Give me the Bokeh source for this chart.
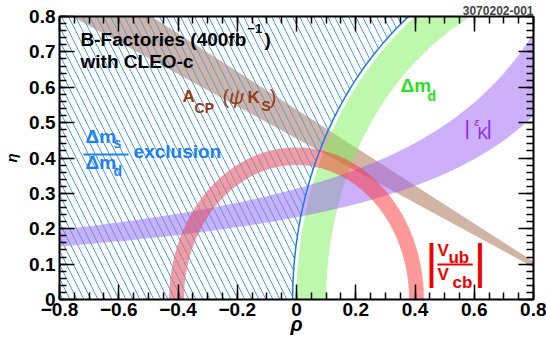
import numpy as np
from bokeh.plotting import figure
from bokeh.models import Range1d, LinearAxis, FixedTicker, Label, CustomJSTickFormatter
from bokeh.embed import file_html
from bokeh.resources import INLINE

# ---- axes -------------------------------------------------------------
rho_range = (-0.8, 0.8)
eta_range = (0.0, 0.8)
rho_ticks = [-0.8, -0.6, -0.4, -0.2, 0.0, 0.2, 0.4, 0.6, 0.8]
rho_tick_labels = ["\u22120.8", "\u22120.6", "\u22120.4", "\u22120.2", "0", "0.2", "0.4", "0.6", "0.8"]
eta_ticks = [0.0, 0.1, 0.2, 0.3, 0.4, 0.5, 0.6, 0.7, 0.8]
eta_tick_labels = ["0", "0.1", "0.2", "0.3", "0.4", "0.5", "0.6", "0.7", "0.8"]
rho_minor_step = 0.05
eta_minor_step = 0.02

# ---- constraints in the (rho, eta) plane ------------------------------
vub_vcb_radii = [0.38, 0.43]      # |Vub/Vcb|: annulus about (0, 0)
dmd_radii = [0.90, 1.00]          # Delta m_d: annulus about (1, 0)
dms_dmd_radius = 1.013            # Delta m_s / Delta m_d exclusion edge, about (1, 0)
acp_tan_beta = [0.455, 0.537]     # A_CP(psi K_S): lines through (1, 0)
epsk_const = [0.337, 0.430]       # |eps_K|: eta = c / (a - rho)
epsk_offset = [1.449, 1.372]

FONT = "Liberation Sans"
FRAME_H = 283
ETA_PER_PX = (eta_range[1] - eta_range[0]) / FRAME_H

p = figure(width=546, height=343, output_backend="svg", toolbar_location=None,
           x_range=Range1d(*rho_range), y_range=Range1d(*eta_range),
           min_border_left=59, min_border_right=13, min_border_top=16, min_border_bottom=44,
           background_fill_color="white", border_fill_color="white")
p.outline_line_color = None
p.grid.visible = False

# figure id in the top right corner
p.title.text = "3070202-001"
p.title.align = "right"
p.title.text_font = FONT
p.title.text_font_size = "12px"
p.title.text_font_style = "bold"
p.title.standoff = 3
p.title.offset = 0


def arc(cx, r, t0, t1, n=200):
    t = np.linspace(t0, t1, n)
    return cx + r * np.cos(t), r * np.sin(t)


# A_CP(psi K_S) wedge
brown_x = [1.0, -1.0, -1.0]
brown_y = [0.0, acp_tan_beta[0] * 2.0, acp_tan_beta[1] * 2.0]
p.patch(brown_x, brown_y, fill_color="#a5694a", fill_alpha=0.5, line_color=None)

# Delta m_d annulus
ox, oy = arc(1.0, dmd_radii[1], np.pi / 2, np.pi)
ix, iy = arc(1.0, dmd_radii[0], np.pi, np.pi / 2)
p.patch(np.concatenate([ox, ix]), np.concatenate([oy, iy]),
        fill_color="#7cf25a", fill_alpha=0.5, line_color=None)

# |eps_K| hyperbolic band
rho = np.linspace(-0.85, 0.85, 200)
lo = epsk_const[0] / (epsk_offset[0] - rho)
hi = epsk_const[1] / (epsk_offset[1] - rho)
p.patch(np.concatenate([rho, rho[::-1]]), np.concatenate([lo, hi[::-1]]),
        fill_color="#9b5ff5", fill_alpha=0.5, line_color=None)

# |Vub/Vcb| annulus
ox, oy = arc(0.0, vub_vcb_radii[1], 0.0, np.pi)
ix, iy = arc(0.0, vub_vcb_radii[0], np.pi, 0.0)
p.patch(np.concatenate([ox, ix]), np.concatenate([oy, iy]),
        fill_color="#ff3333", fill_alpha=0.5, line_color=None)

# Delta m_s / Delta m_d excluded region (hatched) and its edge
ex, ey = arc(1.0, dms_dmd_radius, np.pi, np.pi / 2)
p.patch(np.concatenate([ex, [-1.0, -1.0]]), np.concatenate([ey, [dms_dmd_radius, 0.0]]),
        fill_color=None, line_color=None, hatch_pattern="\\", hatch_color="#4a9ef0",
        hatch_weight=1, hatch_scale=14)
p.line(ex, ey, line_color="#1a7ae6", line_width=1.5)

# ---- axes on all four sides, ticks pointing inwards --------------------
rho_minor = list(np.round(np.arange(rho_range[0], rho_range[1] + 1e-9, rho_minor_step), 3))
eta_minor = list(np.round(np.arange(eta_range[0], eta_range[1] + 1e-9, eta_minor_step), 3))
xt = FixedTicker(ticks=rho_ticks, minor_ticks=rho_minor)
yt = FixedTicker(ticks=eta_ticks, minor_ticks=eta_minor)

LOOKUP = """
const i = tvals.findIndex((t) => Math.abs(t - tick) < 1e-6);
return i >= 0 ? tlabels[i] : "";
"""


def style_axis(ax, tvals=None, tlabels=None):
    ax.axis_line_width = 2
    ax.axis_line_color = "black"
    ax.major_tick_in = 15
    ax.major_tick_out = 0
    ax.minor_tick_in = 7
    ax.minor_tick_out = 0
    ax.major_tick_line_width = 1.5
    ax.minor_tick_line_width = 1.5
    ax.major_tick_line_color = "black"
    ax.minor_tick_line_color = "black"
    if tlabels is None:
        # frame-only axis: ticks, no labels
        ax.formatter = CustomJSTickFormatter(code='return "";')
        ax.major_label_text_font_size = "0px"
        ax.major_label_standoff = 0
    else:
        ax.formatter = CustomJSTickFormatter(args=dict(tvals=tvals, tlabels=tlabels), code=LOOKUP)
        ax.major_label_text_font = FONT
        ax.major_label_text_font_style = "bold"
        ax.major_label_text_font_size = "19px"
        ax.major_label_text_color = "black"
        ax.axis_label_text_font = FONT
        ax.axis_label_text_font_style = "bold italic"
        ax.axis_label_text_color = "black"


p.xaxis.ticker = xt
p.yaxis.ticker = yt
style_axis(p.xaxis[0], rho_ticks, rho_tick_labels)
style_axis(p.yaxis[0], eta_ticks, eta_tick_labels)
p.xaxis.major_label_standoff = 3
p.yaxis.major_label_standoff = 4
p.xaxis.axis_label = "\u03c1"
p.xaxis.axis_label_text_font_size = "20px"
p.xaxis.axis_label_standoff = -6
p.yaxis.axis_label = "\u03b7"
p.yaxis.axis_label_text_font_size = "15px"
p.yaxis.axis_label_standoff = 6

top = LinearAxis(ticker=xt)
right = LinearAxis(ticker=yt)
style_axis(top)
style_axis(right)
p.add_layout(top, "above")
p.add_layout(right, "right")


def label(x, y, text, size, color, style="bold", align="left"):
    # y is the text baseline; lift it to compensate for the renderer's baseline offset
    p.add_layout(Label(x=x, y=y + 0.33 * size * ETA_PER_PX, text=text, text_font=FONT,
                       text_font_size=f"{size}px", text_font_style=style, text_color=color,
                       text_align=align, text_baseline="alphabetic"))


# title block
label(-0.729, 0.716, "B-Factories (400fb", 19, "black")
label(-0.166, 0.753, "\u22121", 13, "black")
label(-0.108, 0.716, ")", 19, "black")
label(-0.729, 0.654, "with CLEO-c", 19, "black")

# A_CP(psi K_S)
BROWN = "#963c14"
label(-0.385, 0.558, "A", 17, BROWN)
label(-0.344, 0.529, "CP", 14, BROWN)
label(-0.250, 0.555, "(", 20, BROWN, "normal")
label(-0.228, 0.555, "\u03c8", 21, BROWN, "italic")
label(-0.165, 0.555, "K", 17, BROWN)
label(-0.118, 0.534, "S", 14, BROWN)
label(-0.090, 0.555, ")", 20, BROWN, "normal")

# Delta m_s / Delta m_d exclusion
BLUE = "#1a82f0"
label(-0.712, 0.444, "\u0394m", 19, BLUE)
label(-0.618, 0.430, "s", 14, BLUE)
p.segment(x0=[-0.719], y0=[0.410], x1=[-0.567], y1=[0.410], line_color=BLUE, line_width=2)
label(-0.712, 0.370, "\u0394m", 19, BLUE)
label(-0.618, 0.351, "d", 14, BLUE)
label(-0.550, 0.401, "exclusion", 19, BLUE)

# Delta m_d
GREEN = "#26e020"
label(0.351, 0.588, "\u0394m", 19, GREEN)
label(0.442, 0.563, "d", 14, GREEN)

# |eps_K|
PURPLE = "#8c28e6"
label(0.567, 0.466, "|", 21, PURPLE, "normal")
label(0.601, 0.492, "\u03b5", 11, PURPLE, "italic")
label(0.611, 0.455, "K", 16, PURPLE, "normal")
label(0.641, 0.466, "|", 21, PURPLE, "normal")

# |Vub/Vcb|
RED = "#f00000"
label(0.435, 0.062, "|", 48, RED, "normal")
label(0.598, 0.062, "|", 48, RED, "normal")
label(0.476, 0.124, "V", 17, RED)
label(0.513, 0.102, "ub", 17, RED)
p.segment(x0=[0.476], y0=[0.099], x1=[0.595], y1=[0.099], line_color=RED, line_width=2)
label(0.476, 0.054, "V", 17, RED)
label(0.527, 0.031, "cb", 17, RED)

open("out.html", "w").write(file_html(p, INLINE))
